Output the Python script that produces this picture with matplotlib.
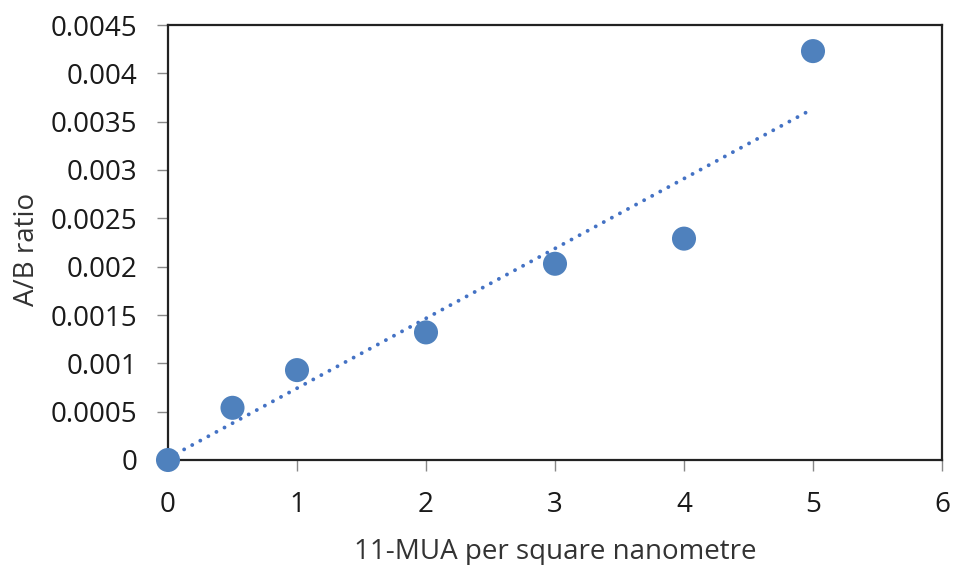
import numpy as np
import matplotlib.pyplot as plt

# 11-MUA surface density vs measured A/B ratio
density = [0, 0.5, 1, 2, 3, 4, 5]
ratio = [0.0, 0.00054, 0.00093, 0.00132, 0.00203, 0.00229, 0.00423]
x_ticks = [0, 1, 2, 3, 4, 5, 6]
y_ticks = [0, 0.0005, 0.001, 0.0015, 0.002, 0.0025, 0.003, 0.0035, 0.004, 0.0045]
y_labels = ["0", "0.0005", "0.001", "0.0015", "0.002", "0.0025", "0.003", "0.0035", "0.004", "0.0045"]

plt.rcParams['font.family'] = ['Open Sans', 'DejaVu Sans']

fig = plt.figure(figsize=(9.54, 5.65), dpi=100)
ax = fig.add_axes([168 / 954, 1 - 460 / 565, (942 - 168) / 954, (460 - 25) / 565])

# linear least-squares trendline
slope, intercept = np.polyfit(density, ratio, 1)
xs = np.array([min(density), max(density)])
ax.plot(xs, slope * xs + intercept, color='#4472C4', lw=2.8,
        linestyle=(0, (0.01, 2.35)), dash_capstyle='round', zorder=2)

ax.scatter(density, ratio, s=300, color='#4F81BD', edgecolors='none', zorder=3,
           clip_on=False)

ax.set_xlim(0, 6)
ax.set_ylim(0, 0.0045)
ax.set_xticks(x_ticks)
ax.set_yticks(y_ticks)
ax.set_yticklabels(y_labels)
ax.tick_params(labelsize=20, labelcolor='#1a1a1a', direction='out', length=8,
               width=1, color='#888888')
ax.tick_params(axis='y', pad=14)
ax.tick_params(axis='x', pad=14)

for side in ax.spines.values():
    side.set_color('#222222')
    side.set_linewidth(1.6)

ax.set_xlabel("11-MUA per square nanometre", fontsize=20, color='#333333', labelpad=14)
ax.set_ylabel("A/B ratio", fontsize=20, color='#333333', labelpad=7)
ax.yaxis.label.set_y(0.485)

fig.savefig("out.png", dpi=100)
